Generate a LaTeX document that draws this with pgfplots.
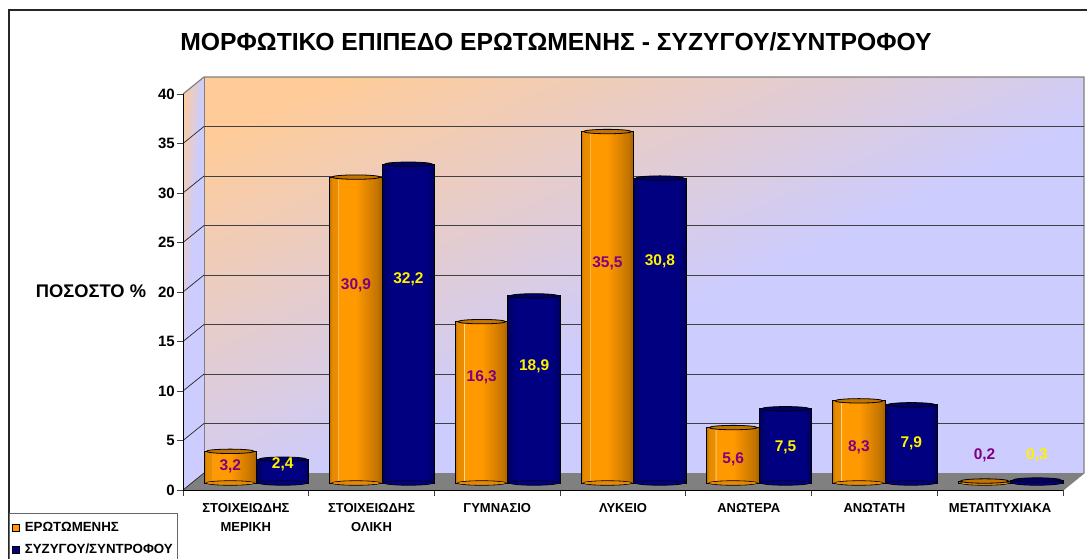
\documentclass[border=0pt]{standalone}
\usepackage{fontspec}
\setmainfont{Liberation Sans}
\usepackage{pgfplots}
\usepackage{pgfplotstable}
\pgfplotsset{compat=1.18}

\definecolor{wallorange}{RGB}{255,204,153}
\definecolor{walllav}{RGB}{204,204,255}
\definecolor{barorange}{RGB}{255,153,0}
\definecolor{bardark}{RGB}{196,116,0}
\definecolor{barnavy}{RGB}{0,0,128}
\definecolor{labpurple}{RGB}{128,0,128}

\pgfdeclareverticalshading{wall}{100bp}{color(0bp)=(walllav); color(39.6bp)=(walllav); color(48.53bp)=(wallorange); color(100bp)=(wallorange)}
\pgfdeclareverticalshading{sidewall}{100bp}{color(0bp)=(walllav); color(25bp)=(walllav); color(53.5bp)=(walllav); color(75bp)=(wallorange); color(100bp)=(wallorange)}
\pgfdeclarehorizontalshading{orangebar}{100bp}{color(0bp)=(bardark); color(25bp)=(bardark); color(27bp)=(barorange!90!black); color(32.6bp)=(barorange!92!black); color(33bp)=(white!70!barorange); color(33.6bp)=(barorange); color(50bp)=(barorange); color(70bp)=(bardark); color(75bp)=(bardark!85!black); color(100bp)=(bardark)}
\pgfdeclarehorizontalshading{navybar}{100bp}{color(0bp)=(barnavy); color(25bp)=(barnavy!75!black); color(32bp)=(barnavy); color(50bp)=(barnavy); color(68bp)=(barnavy); color(75bp)=(barnavy!70!black); color(100bp)=(barnavy)}

\pgfdeclareplotmark{barcap}{%
  \pgfpathellipse{\pgfpointorigin}{\pgfqpoint{24pt}{0pt}}{\pgfqpoint{0pt}{2.2pt}}%
  \pgfusepathqfillstroke}
% covers the straight bottom edge of a bar
\pgfdeclareplotmark{barfoot}{%
  \pgfpathellipse{\pgfpointorigin}{\pgfqpoint{24pt}{0pt}}{\pgfqpoint{0pt}{1.7pt}}%
  \pgfusepathqfill}

% x, heights, height of the value label, label text
\pgfplotstableread{
x a b ya yb la lb
0 3.2 2.4 1.72 1.92 3,2 2,4
1 30.9 32.2 20.0 20.6 30,9 32,2
2 16.3 18.9 10.7 11.8 16,3 18,9
3 35.5 30.8 22.2 22.4 35,5 30,8
4 5.6 7.5 2.42 3.64 5,6 7,5
5 8.3 7.9 3.64 4.04 8,3 7,9
6 0.2 0.3 2.83 2.83 0,2 0,3
}\datatable

\begin{document}
\begin{tikzpicture}
\useasboundingbox (0pt,0pt) rectangle (1087pt,-558pt);
\draw[line width=1.3pt,black!85] (1100pt,-10pt) -- (9pt,-10pt) -- (9pt,-570pt);

% walls and floor
\begin{scope}
\clip (204pt,-77pt) rectangle (1084pt,-473pt);
\path[shading=wall,shading angle=24.7] (-796pt,923pt) rectangle (1204pt,-1077pt);
\end{scope}
\path[shading=sidewall,shading angle=86.4] (183pt,-94pt) -- (204pt,-77pt) -- (204pt,-473pt) -- (183pt,-490pt) -- cycle;
\fill[black!50] (183pt,-490pt) -- (204pt,-473pt) -- (1084pt,-473pt) -- (1063pt,-490pt) -- cycle;
\draw[black!50,line width=1.2pt] (183pt,-94pt) -- (204pt,-77pt) -- (1084pt,-77pt) -- (1084pt,-473pt) -- (1063pt,-490pt);
\draw[black!50,line width=1pt] (204pt,-77pt) -- (204pt,-473pt);

% grid on the back wall
\begin{axis}[
    at={(204pt,-473pt)}, anchor=origin,
    scale only axis, width=880pt, height=396pt,
    xmin=0, xmax=7, ymin=0, ymax=40,
    xtick=\empty, ytick={5,10,...,35},
    yticklabels={},
    axis line style={draw=none},
    tick style={draw=none},
    ymajorgrids,
    grid style={black!75,line width=0.8pt},
]
\end{axis}

\foreach \k in {0,...,7} {
  \draw[black!85,line width=0.7pt] (183pt,{-490pt+\k*49.5pt}) -- (204pt,{-473pt+\k*49.5pt});
}

% front axis with ticks, labels, legend
\begin{axis}[
    at={(183pt,-490pt)}, anchor=origin,
    scale only axis, width=880pt, height=396pt,
    xmin=0, xmax=7, ymin=0, ymax=40,
    axis x line*=bottom, axis y line*=left,
    axis line style={-,black,line width=0.8pt},
    xtick={0,...,7}, ytick={0,5,...,40},
    x tick label as interval,
    xticklabels={{ΣΤΟΙΧΕΙΩΔΗΣ\\ΜΕΡΙΚΗ},{ΣΤΟΙΧΕΙΩΔΗΣ\\ΟΛΙΚΗ},ΓΥΜΝΑΣΙΟ,ΛΥΚΕΙΟ,ΑΝΩΤΕΡΑ,ΑΝΩΤΑΤΗ,ΜΕΤΑΠΤΥΧΙΑΚΑ},
    tick align=outside, major tick length=6pt,
    tick style={black!75,line width=0.8pt},
    /pgf/number format/assume math mode=true,
    yticklabel style={font=\fontsize{15}{17}\selectfont\bfseries,inner sep=1pt,xshift=-1pt},
    xticklabel style={font=\fontsize{13}{19}\selectfont\bfseries,align=center,anchor=north,yshift=-4pt},
    legend style={
        at={(-0.1977,-0.058)}, anchor=north west,
        draw=black!60, line width=1pt,
        font=\fontsize{13.3}{15}\selectfont\bfseries,
        inner xsep=2.5pt, inner ysep=7pt,
        row sep=7pt,
    },
    legend cell align=left,
    legend image code/.code={\draw[#1,line width=0.6pt] (0pt,-3.5pt) rectangle (7pt,3.5pt);\path (10pt,0pt);},
]
\addlegendimage{fill=barorange,draw=black}
\addlegendentry{ΕΡΩΤΩΜΕΝΗΣ}
\addlegendimage{fill=barnavy,draw=black}
\addlegendentry{ΣΥΖΥΓΟΥ/ΣΥΝΤΡΟΦΟΥ}
\end{axis}

\node[font=\fontsize{24.7}{28}\selectfont\bfseries] at (556pt,-42pt) {ΜΟΡΦΩΤΙΚΟ ΕΠΙΠΕΔΟ ΕΡΩΤΩΜΕΝΗΣ - ΣΥΖΥΓΟΥ/ΣΥΝΤΡΟΦΟΥ};
\node[font=\fontsize{18.3}{21}\selectfont\bfseries] at (91pt,-291pt) {ΠΟΣΟΣΤΟ \%};

% bars stand between the front edge and the back wall; anchor=origin is data (0,0)
\begin{axis}[
    at={(256.5pt,-483pt)}, anchor=origin,
    scale only axis, width=880pt, height=396pt,
    xmin=-0.5, xmax=6.5, ymin=0, ymax=40,
    hide axis, clip=false,
    nodes near coords style={anchor=center,inner sep=0pt,font=\fontsize{15.5}{17}\selectfont\bfseries},
]
% one plot per bar, otherwise the shading spans all the bars of a series
\pgfplotsinvokeforeach{0,...,6}{
  \addplot[only marks,mark=barcap,xshift=-26.2pt,restrict x to domain=#1:#1,mark options={fill=bardark,draw=black,line width=0.8pt}] table[x=x,y expr=0] {\datatable};
  \addplot[ybar,bar width=52.4pt,bar shift=-26.2pt,draw=black,line width=1pt,shading=orangebar,restrict x to domain=#1:#1] table[x=x,y=a] {\datatable};
  \addplot[only marks,mark=barfoot,xshift=-26.2pt,restrict x to domain=#1:#1,mark options={fill=barorange!90!black,draw=none}] table[x=x,y expr=0] {\datatable};
  \addplot[only marks,mark=barcap,xshift=-26.2pt,restrict x to domain=#1:#1,mark options={fill=bardark,draw=black,line width=0.8pt}] table[x=x,y=a] {\datatable};
  \addplot[only marks,mark=barcap,xshift=26.2pt,restrict x to domain=#1:#1,mark options={fill=barnavy,draw=black,line width=0.8pt}] table[x=x,y expr=0] {\datatable};
  \addplot[ybar,bar width=52.4pt,bar shift=26.2pt,draw=black,line width=1pt,shading=navybar,restrict x to domain=#1:#1] table[x=x,y=b] {\datatable};
  \addplot[only marks,mark=barfoot,xshift=26.2pt,restrict x to domain=#1:#1,mark options={fill=barnavy,draw=none}] table[x=x,y expr=0] {\datatable};
  \addplot[only marks,mark=barcap,xshift=26.2pt,restrict x to domain=#1:#1,mark options={fill=barnavy!80!black,draw=black,line width=0.8pt}] table[x=x,y=b] {\datatable};
}
\addplot[draw=none,mark=none,xshift=-26.2pt,point meta=explicit symbolic,nodes near coords,nodes near coords style={text=labpurple}] table[x=x,y=ya,meta=la] {\datatable};
\addplot[draw=none,mark=none,xshift=26.2pt,point meta=explicit symbolic,nodes near coords,nodes near coords style={text=yellow}] table[x=x,y=yb,meta=lb] {\datatable};
\end{axis}
\end{tikzpicture}
\end{document}
